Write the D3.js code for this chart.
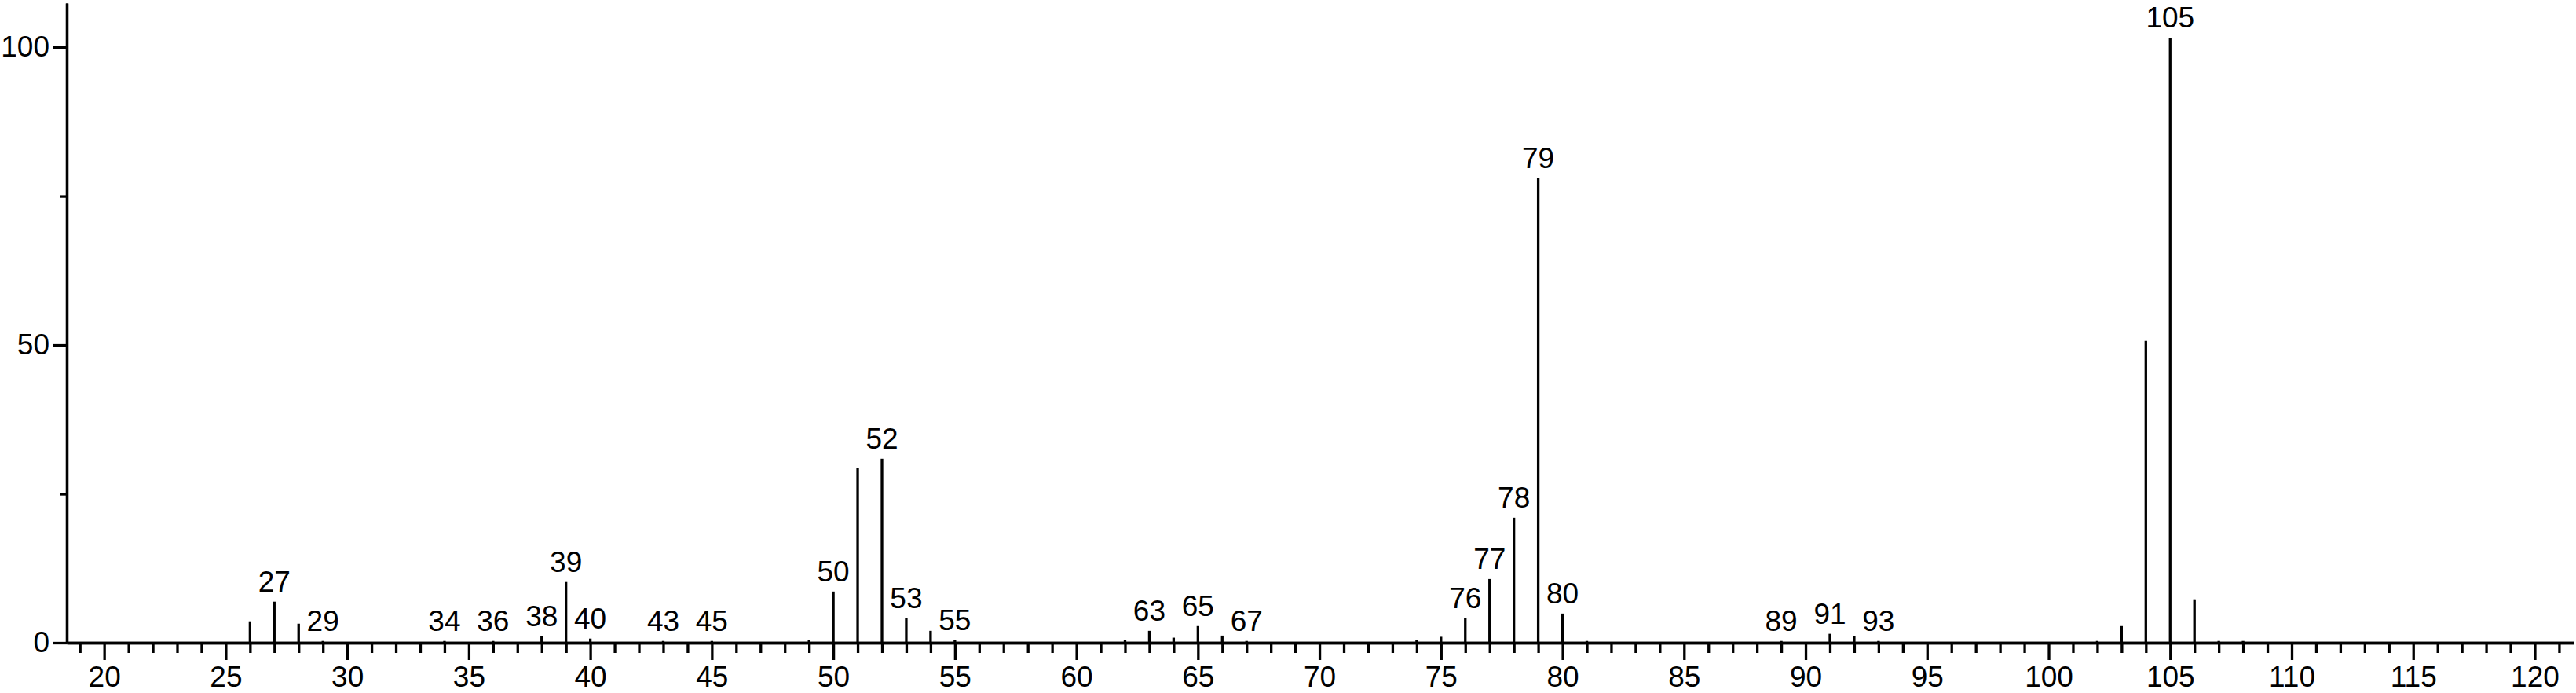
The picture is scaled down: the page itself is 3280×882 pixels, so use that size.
<!DOCTYPE html>
<meta charset="utf-8">
<style>
body { margin: 0; background: #fff; }
svg { display: block; }
text { font-family: "Liberation Sans", Arial, sans-serif; font-size: 37px; fill: #000; }
.axis path, .axis line { stroke: #000; stroke-width: 3.3px; }
.peaks line { stroke: #000; stroke-width: 3.3px; }
</style>
<svg width="3280" height="882"></svg>
<script src="https://d3js.org/d3.v7.min.js"></script>
<script>

// m/z values of the peaks
var mz = [26, 27, 28, 29, 34, 36, 38, 39, 40, 43, 45, 49, 50, 51, 52, 53, 54, 55,
          62, 63, 64, 65, 66, 67, 74, 75, 76, 77, 78, 79, 80, 81,
          89, 91, 92, 93, 102, 103, 104, 105, 106, 107, 108];

// relative intensity (%) for each peak above
var intensity = [3.6, 6.9, 3.2, 0.3, 0.3, 0.3, 1.1, 10.2, 0.7, 0.3, 0.3, 0.4, 8.6, 29.3, 30.9, 4.1, 2.0, 0.4,
                 0.4, 2.0, 0.85, 2.8, 1.2, 0.3, 0.5, 1.0, 4.1, 10.7, 21.0, 78.0, 4.9, 0.3,
                 0.3, 1.5, 1.15, 0.3, 0.3, 2.8, 50.7, 101.6, 7.3, 0.3, 0.3];

// peaks that get a number on top
var labeled = [27, 29, 34, 36, 38, 39, 40, 43, 45, 50, 52, 53, 55, 63, 65, 67,
               76, 77, 78, 79, 80, 89, 91, 93, 105];

var xMajor = d3.range(20, 121, 5);
var xMinor = d3.range(19, 122).filter(function(v) { return v % 5 != 0; });
var yMajor = [0, 50, 100];
var yMinor = [25, 75];

var peaks = mz.map(function(m, i) { return {mz: m, val: intensity[i]}; });

var svg = d3.select("svg");

var x = d3.scaleLinear().domain([18.46, 121.6]).range([85, 3277]);
var y = d3.scaleLinear().domain([0, 107.4]).range([818, 4]);

// x axis: minor ticks first, then majors with labels
svg.append("g")
    .attr("class", "axis")
    .attr("transform", "translate(0," + y(0) + ")")
    .call(d3.axisBottom(x).tickValues(xMinor).tickSize(13).tickSizeOuter(0).tickFormat(""));

svg.append("g")
    .attr("class", "axis")
    .attr("transform", "translate(0," + y(0) + ")")
    .call(d3.axisBottom(x).tickValues(xMajor).tickSize(22).tickSizeOuter(0).tickPadding(8).tickFormat(d3.format("d")))
    .call(function(g) { g.selectAll("text").attr("font-size", null).attr("font-family", null); });

// y axis
svg.append("g")
    .attr("class", "axis")
    .attr("transform", "translate(" + x.range()[0] + ",0)")
    .call(d3.axisLeft(y).tickValues(yMinor).tickSize(8).tickSizeOuter(0).tickFormat(""));

svg.append("g")
    .attr("class", "axis")
    .attr("transform", "translate(" + x.range()[0] + ",0)")
    .call(d3.axisLeft(y).tickValues(yMajor).tickSize(18).tickSizeOuter(0).tickPadding(4).tickFormat(d3.format("d")))
    .call(function(g) { g.selectAll("text").attr("font-size", null).attr("font-family", null); });

svg.selectAll(".axis").attr("font-size", null).attr("font-family", null);

// peak sticks
svg.append("g")
    .attr("class", "peaks")
    .selectAll("line")
    .data(peaks)
    .enter().append("line")
    .attr("x1", function(d) { return x(d.mz); })
    .attr("x2", function(d) { return x(d.mz); })
    .attr("y1", y(0))
    .attr("y2", function(d) { return y(d.val); });

// peak labels
svg.append("g")
    .selectAll("text")
    .data(peaks.filter(function(d) { return labeled.includes(d.mz); }))
    .enter().append("text")
    .attr("text-anchor", "middle")
    .attr("x", function(d) { return x(d.mz); })
    .attr("y", function(d) { return y(d.val) - 13; })
    .text(function(d) { return d.mz; });

</script>
